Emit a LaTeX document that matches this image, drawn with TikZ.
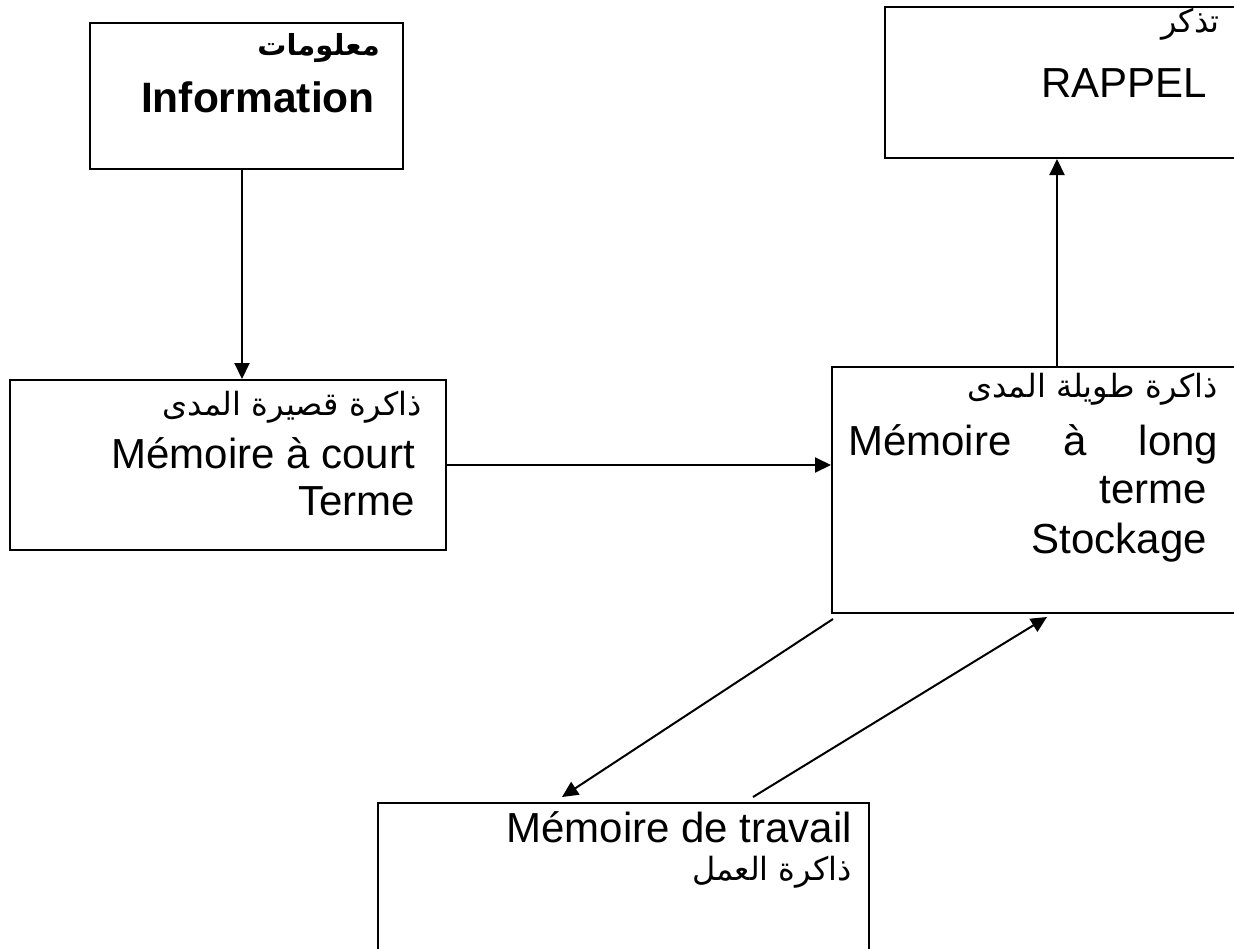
\documentclass[tikz,border=0pt]{standalone}
\usepackage{fontspec}
\setmainfont{Liberation Sans}
\newfontfamily\arabicfont[Script=Arabic]{DejaVu Sans}
\TeXXeTstate=1
\usetikzlibrary{arrows.meta,calc}
\tikzset{
  box/.style={draw, line width=2pt, anchor=north west, inner sep=0pt},
  lat/.style={anchor=base east, inner sep=0pt, font=\fontsize{42}{47}\selectfont},
  arb/.style={anchor=base east, inner sep=0pt, font=\fontsize{32}{40}\arabicfont},
  arr/.style={line width=2pt, -{Triangle[length=16pt,width=15pt]}}
}
\begin{document}
\begin{tikzpicture}[x=1pt,y=-1pt]
\useasboundingbox (0,0) rectangle (1234,948);
\clip (0,0) rectangle (1234,948);
% boxes
\node[box, minimum width=313pt, minimum height=146pt] (info) at (89,22) {};
\node[box, minimum width=450pt, minimum height=151pt] (rp) at (884,6) {};
\node[box, minimum width=436pt, minimum height=170pt] (st) at (9,379) {};
\node[box, minimum width=450pt, minimum height=246pt] (lt) at (831,366) {};
\node[box, minimum width=491pt, minimum height=200pt] (wm) at (377,802) {};
% texts
\node[arb, font=\fontsize{29}{36}\arabicfont\bfseries] (t1) at (380,55) {\beginR معلومات\endR};
\node[lat, font=\fontsize{42.5}{47}\selectfont\bfseries] (t2) at (375,112) {Information};
\node[arb] (t3) at (1220,32) {\beginR تذكر\endR};
\node[lat] (t4) at (1207,97) {RAPPEL};
\node[arb] (t5) at (422,415) {\beginR ذاكرة قصيرة المدى\endR};
\node[lat] (t6) at (415,468) {Mémoire à court};
\node[lat] (t7) at (415,515) {Terme};
\node[arb] (t8) at (1218,397) {\beginR ذاكرة طويلة المدى\endR};
\node[lat, anchor=base west] (t9) at (848,455) {\makebox[370pt][s]{Mémoire\ à\ long}};
\node[lat] (t10) at (1207,503) {terme};
\node[lat] (t11) at (1207,553) {Stockage};
\node[lat] (t12) at (852,842) {Mémoire de travail};
\node[arb] (t13) at (852,880) {\beginR ذاكرة العمل\endR};
% connectors
\draw[arr] ($(info.south west)+(153,0)$) -- ($(st.north west)+(233,0)$);
\draw[arr] ($(lt.north west)+(226,0)$) -- ($(rp.south west)+(173,0)$);
\draw[arr] (st.east) -- (st.east -| lt.west);
\draw[arr] ($(lt.south west)+(2,5)$) -- ($(wm.north west)+(185,-5)$);
\draw[arr] ($(wm.north west)+(376,-5)$) -- ($(lt.south west)+(216,3)$);
\end{tikzpicture}
\end{document}
